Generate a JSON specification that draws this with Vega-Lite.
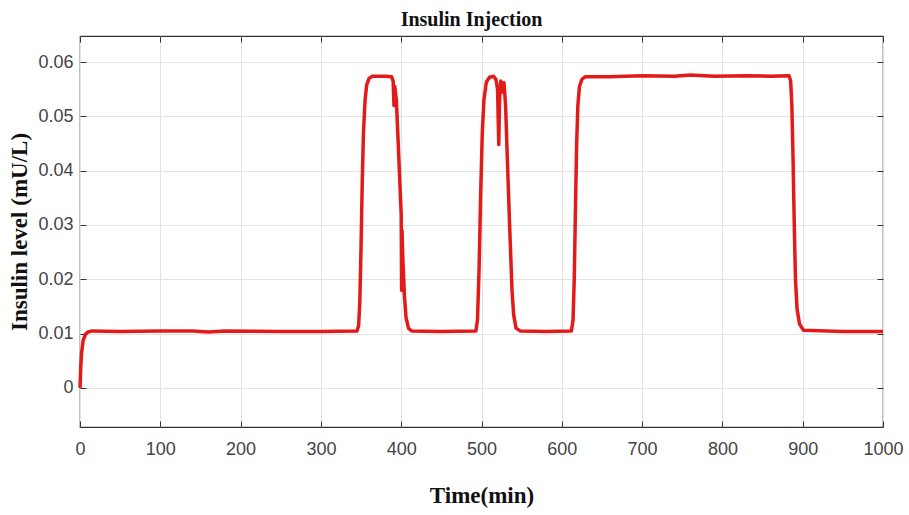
{
  "$schema": "https://vega.github.io/schema/vega-lite/v6.json",
  "autosize": "none",
  "width": 803,
  "height": 391,
  "padding": {"left": 80, "top": 36, "right": 26, "bottom": 88},
  "background": "white",
  "title": {"text": "Insulin Injection", "font": "Liberation Serif", "fontSize": 20, "fontWeight": "bold", "color": "#111", "anchor": "middle", "offset": 6, "dx": -10},
  "config": {"view": {"stroke": "#333", "strokeWidth": 1.2}},
  "data": {"values": [
    {"t": 0, "v": 0}, {"t": 1, "v": 0.004}, {"t": 2, "v": 0.0065}, {"t": 4, "v": 0.0088}, {"t": 7, "v": 0.0099}, {"t": 10, "v": 0.0103}, {"t": 15, "v": 0.0105},
    {"t": 50, "v": 0.0104}, {"t": 100, "v": 0.0105}, {"t": 140, "v": 0.0105}, {"t": 160, "v": 0.0103}, {"t": 180, "v": 0.0105}, {"t": 250, "v": 0.0104}, {"t": 300, "v": 0.0104},
    {"t": 345, "v": 0.0105}, {"t": 347, "v": 0.0115}, {"t": 348.5, "v": 0.016}, {"t": 350, "v": 0.026}, {"t": 351.5, "v": 0.038}, {"t": 353, "v": 0.047}, {"t": 355, "v": 0.053}, {"t": 357, "v": 0.0558}, {"t": 360, "v": 0.057},
    {"t": 364, "v": 0.0574}, {"t": 380, "v": 0.0574}, {"t": 388, "v": 0.0573}, {"t": 390, "v": 0.0565}, {"t": 391, "v": 0.052}, {"t": 392, "v": 0.0555}, {"t": 394, "v": 0.053},
    {"t": 396, "v": 0.046}, {"t": 398, "v": 0.039}, {"t": 400, "v": 0.032}, {"t": 400.5, "v": 0.018}, {"t": 401, "v": 0.029}, {"t": 402, "v": 0.024}, {"t": 404, "v": 0.017},
    {"t": 406, "v": 0.013}, {"t": 409, "v": 0.011}, {"t": 413, "v": 0.0105}, {"t": 450, "v": 0.0104}, {"t": 493, "v": 0.0105},
    {"t": 495, "v": 0.0125}, {"t": 497, "v": 0.022}, {"t": 499, "v": 0.036}, {"t": 501, "v": 0.047}, {"t": 503, "v": 0.053}, {"t": 506, "v": 0.0563}, {"t": 510, "v": 0.0572}, {"t": 515, "v": 0.0574},
    {"t": 518, "v": 0.0568}, {"t": 520, "v": 0.055}, {"t": 521.5, "v": 0.0448}, {"t": 522.5, "v": 0.053}, {"t": 524, "v": 0.0565}, {"t": 526, "v": 0.0545}, {"t": 528, "v": 0.0562}, {"t": 530, "v": 0.052},
    {"t": 532, "v": 0.043}, {"t": 535, "v": 0.03}, {"t": 538, "v": 0.018}, {"t": 540, "v": 0.0135}, {"t": 543, "v": 0.011}, {"t": 548, "v": 0.0105}, {"t": 580, "v": 0.0104}, {"t": 612, "v": 0.0105},
    {"t": 614, "v": 0.0125}, {"t": 615.5, "v": 0.02}, {"t": 617, "v": 0.033}, {"t": 618.5, "v": 0.045}, {"t": 620, "v": 0.052}, {"t": 622, "v": 0.0555}, {"t": 625, "v": 0.0568}, {"t": 629, "v": 0.0573},
    {"t": 660, "v": 0.0573}, {"t": 700, "v": 0.0575}, {"t": 740, "v": 0.0574}, {"t": 760, "v": 0.0576}, {"t": 790, "v": 0.0574}, {"t": 830, "v": 0.0575}, {"t": 860, "v": 0.0574}, {"t": 883, "v": 0.0575},
    {"t": 885, "v": 0.0565}, {"t": 886.5, "v": 0.052}, {"t": 888, "v": 0.042}, {"t": 889.5, "v": 0.03}, {"t": 891, "v": 0.02}, {"t": 893, "v": 0.0145}, {"t": 896, "v": 0.0118}, {"t": 901, "v": 0.0106},
    {"t": 950, "v": 0.0104}, {"t": 1000, "v": 0.0104}
  ]},
  "resolve": {"axis": {"x": "independent", "y": "independent"}},
  "layer": [
    {
      "mark": {"type": "line", "color": "#e31a1a", "strokeWidth": 3.5, "strokeJoin": "round"},
      "encoding": {
        "x": {"field": "t", "type": "quantitative", "scale": {"domain": [0, 1000], "nice": false, "zero": false},
          "axis": {"values": [0,100,200,300,400,500,600,700,800,900,1000], "format": "d", "title": "Time(min)", "titleFont": "Liberation Serif", "titleFontSize": 23, "titleFontWeight": "bold", "titleColor": "#111", "titlePadding": 26,
            "labelFont": "Liberation Sans", "labelFontSize": 18, "labelColor": "#444", "labelPadding": 19, "tickSize": -6, "tickColor": "#333", "domain": false, "grid": true, "gridColor": "#e3e3e3", "labelFlush": false}},
        "y": {"field": "v", "type": "quantitative", "scale": {"domain": [-0.0072, 0.0648], "nice": false, "zero": false},
          "axis": {"values": [0,0.01,0.02,0.03,0.04,0.05,0.06], "format": ".2~f", "title": "Insulin level (mU/L)", "titleFont": "Liberation Serif", "titleFontSize": 23, "titleFontWeight": "bold", "titleColor": "#111", "titlePadding": 6,
            "labelFont": "Liberation Sans", "labelFontSize": 18, "labelColor": "#444", "labelPadding": 13, "tickSize": -6, "tickColor": "#333", "domain": false, "grid": true, "gridColor": "#e3e3e3"}}
      }
    },
    {
      "mark": {"type": "line", "opacity": 0},
      "encoding": {
        "x": {"field": "t", "type": "quantitative", "scale": {"domain": [0, 1000], "nice": false, "zero": false},
          "axis": {"orient": "top", "values": [0,100,200,300,400,500,600,700,800,900,1000], "labels": false, "title": null, "tickSize": -6, "tickColor": "#333", "domain": false, "grid": false}},
        "y": {"field": "v", "type": "quantitative", "scale": {"domain": [-0.0072, 0.0648], "nice": false, "zero": false},
          "axis": {"orient": "right", "values": [0,0.01,0.02,0.03,0.04,0.05,0.06], "labels": false, "title": null, "tickSize": -6, "tickColor": "#333", "domain": false, "grid": false}}
      }
    }
  ]
}
